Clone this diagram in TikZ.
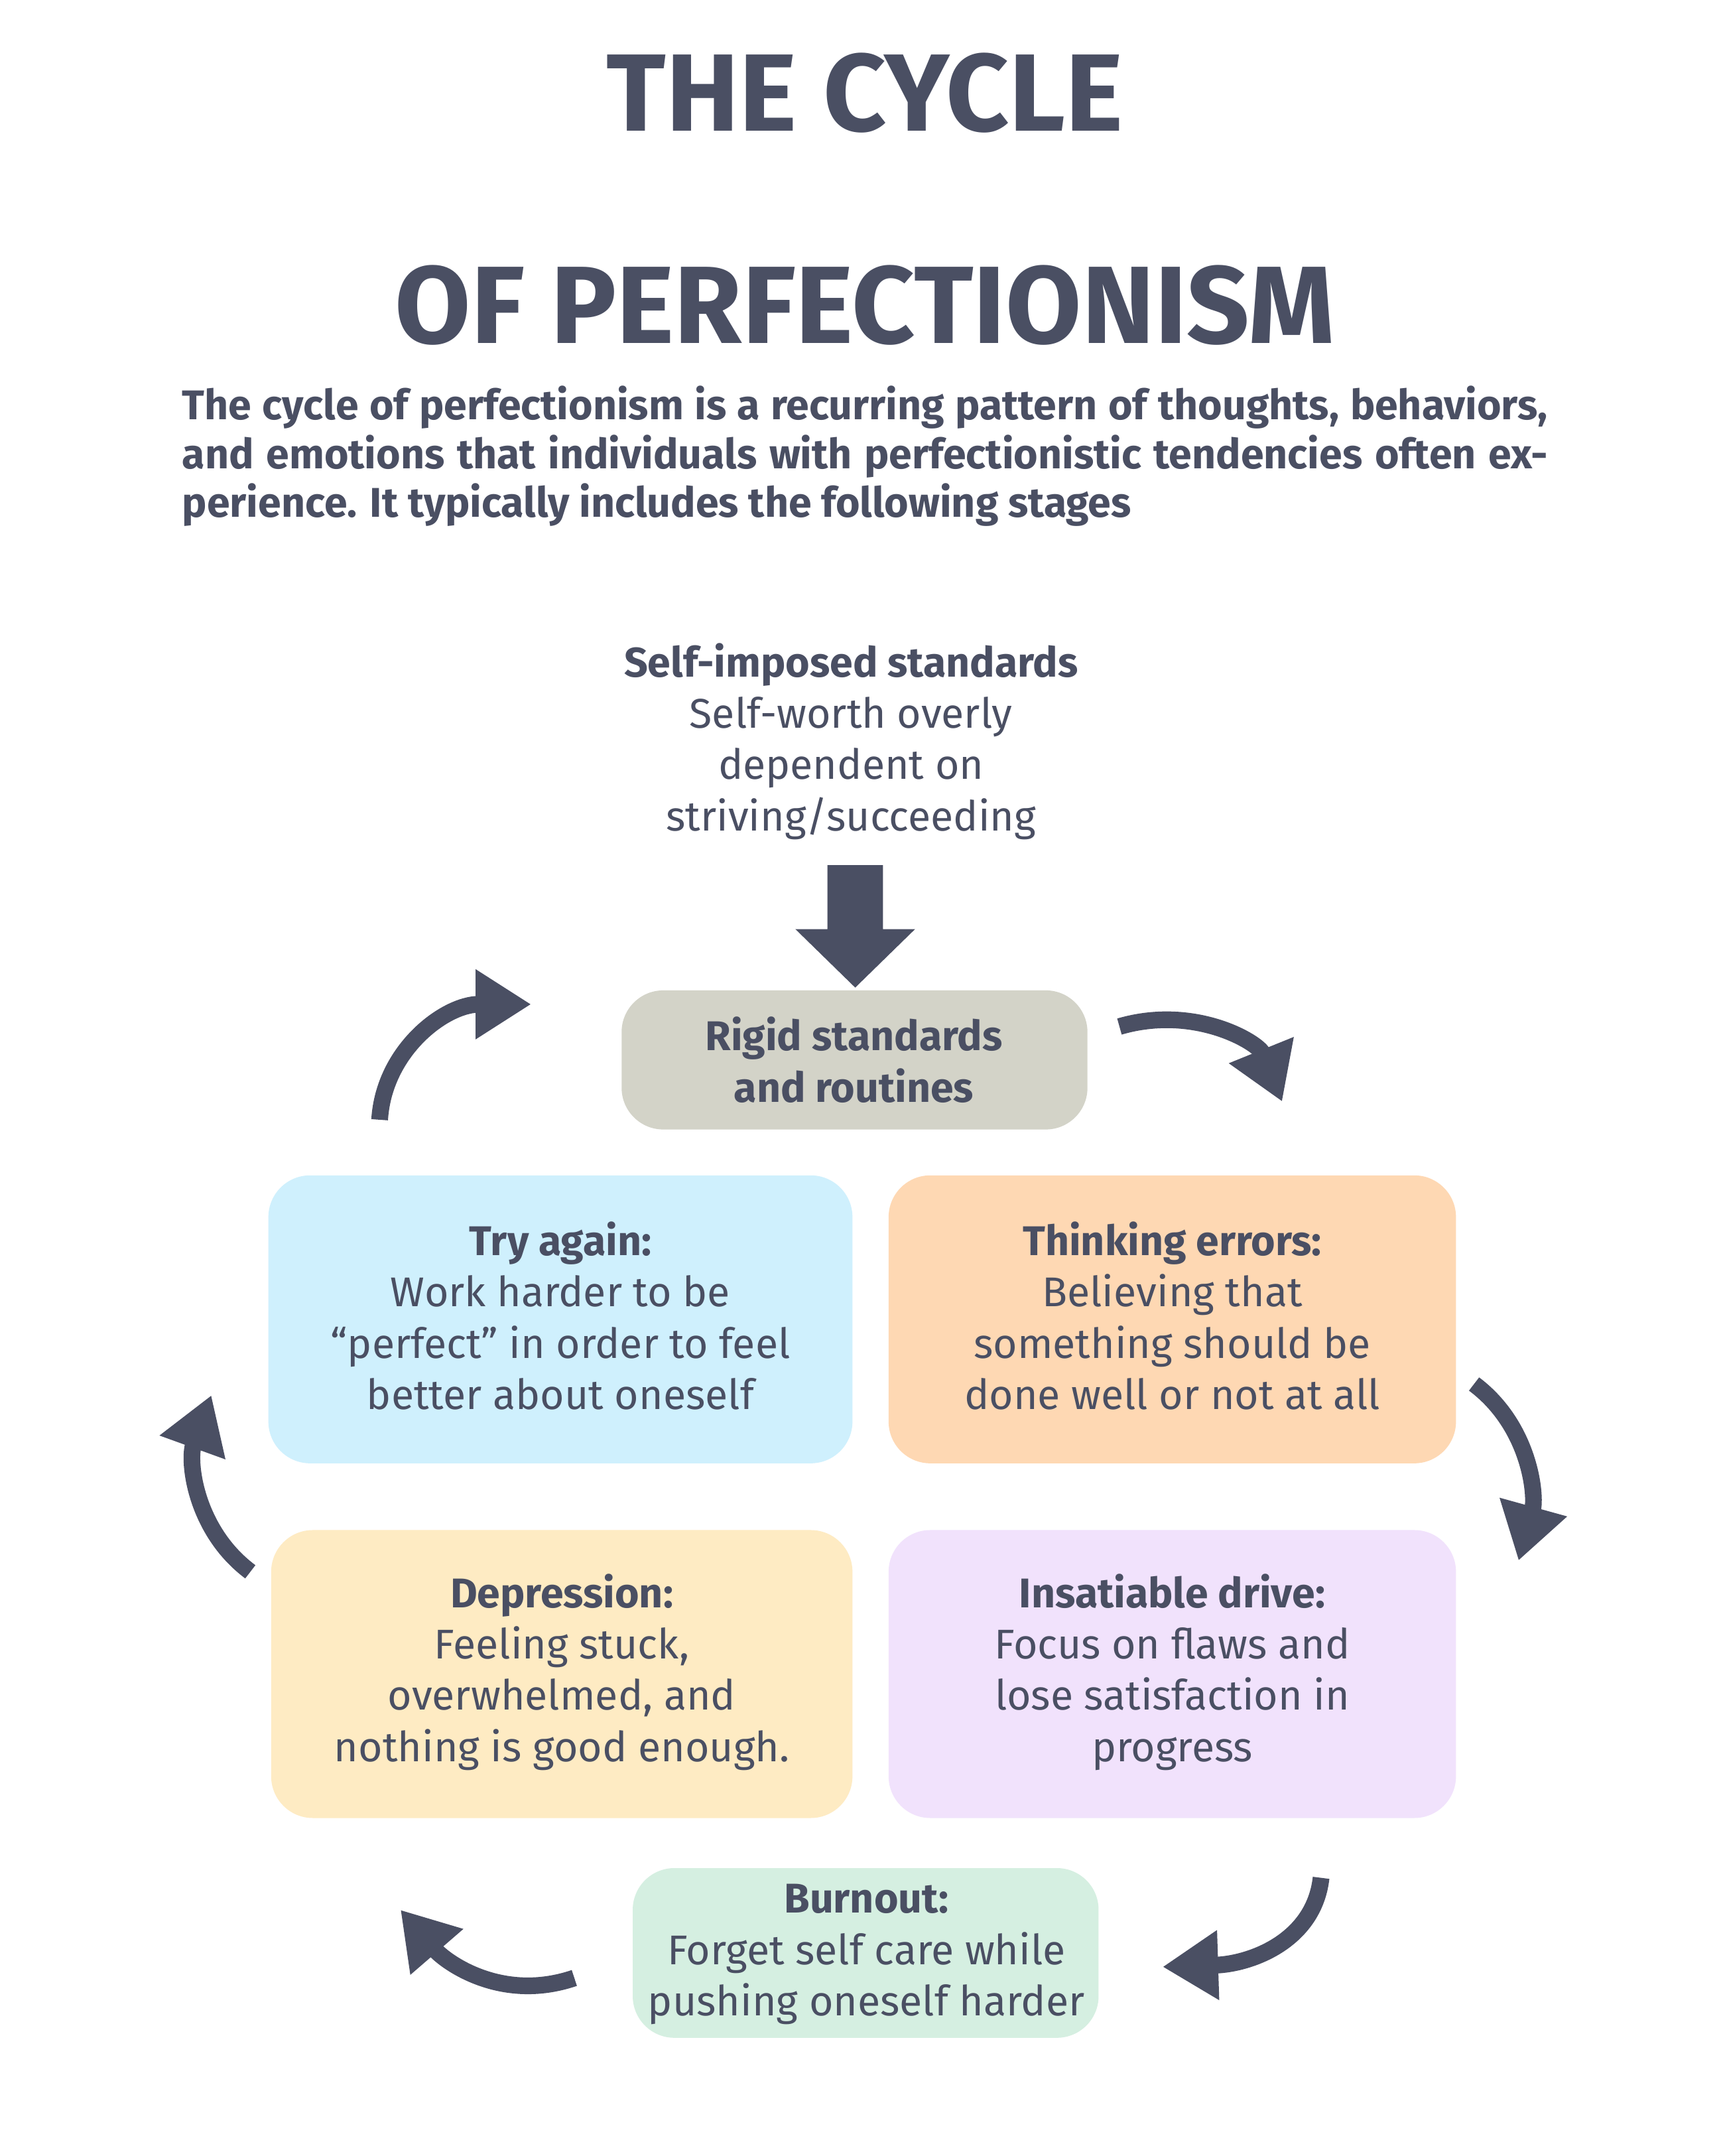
\documentclass[tikz,border=0pt]{standalone}
\usepackage{fontspec}
\setmainfont{Fira Sans}
\usetikzlibrary{arrows.meta}
\definecolor{ink}{HTML}{4A4F63}
\definecolor{rigidc}{HTML}{D3D3C8}
\definecolor{tryc}{HTML}{CFF0FD}
\definecolor{thinkc}{HTML}{FED8B3}
\definecolor{depc}{HTML}{FEEBC3}
\definecolor{insc}{HTML}{F1E2FC}
\definecolor{burnc}{HTML}{D5EFE1}
\tikzset{
  stage/.style={rounded corners=0.6cm, align=center, text=ink, inner sep=0pt,
    font=\fontsize{17}{21}\selectfont},
  turn/.style={draw=ink, line width=0.24cm,
    -{Triangle[length=0.8cm,width=0.95cm]}},
}
\begin{document}
\begin{tikzpicture}[x=0.02cm,y=-0.02cm]
    \useasboundingbox[fill=white] (0,0) rectangle (1240,1550);
    % heading
    \node[text=ink, align=center, font=\fontsize{45}{87}\selectfont\bfseries] (title) at (622,143)
      {THE CYCLE\\OF PERFECTIONISM};
    \node[text=ink, text width=19.64cm, align=justify, inner sep=0pt,
      font=\fontsize{17}{20}\selectfont\bfseries] (intro) at (622,328)
      {The cycle of perfectionism is a recurring pattern of thoughts, behaviors, and emotions that individuals with perfectionistic tendencies often experience. It typically includes the following stages};
    \node[stage] (self) at (612,533)
      {\textbf{Self-imposed standards}\\Self-worth overly\\dependent on\\striving/succeeding};
    % stages
    \path[stage, fill=rigidc] (447,712) rectangle (782,812);
    \node[stage] (rigid) at (614,762) {\textbf{Rigid standards}\\\textbf{and routines}};
    \path[stage, fill=tryc] (193,845) rectangle (613,1052);
    \node[stage] (try) at (403,946) {\textbf{Try again:}\\Work harder to be\\“perfect” in order to feel\\better about oneself};
    \path[stage, fill=thinkc] (639,845) rectangle (1047,1052);
    \node[stage] (think) at (843,946) {\textbf{Thinking errors:}\\Believing that\\something should be\\done well or not at all};
    \path[stage, fill=depc] (195,1100) rectangle (613,1307);
    \node[stage] (dep) at (404,1202) {\textbf{Depression:}\\Feeling stuck,\\overwhelmed, and\\nothing is good enough.};
    \path[stage, fill=insc] (639,1100) rectangle (1047,1307);
    \node[stage] (ins) at (843,1202) {\textbf{Insatiable drive:}\\Focus on flaws and\\lose satisfaction in\\progress};
    \path[stage, fill=burnc] (455,1343) rectangle (790,1465);
    \node[stage] (burn) at (623,1405) {\textbf{Burnout:}\\Forget self care while\\pushing oneself harder};
    % arrows
    \fill[ink] (595,622) -- (635,622) -- (635,668) -- (658,668) -- (615,710) -- (572,668) -- (595,668) -- cycle;
    \coordinate (a1) at (273,805); \coordinate (b1) at (382,722);
    \coordinate (a2) at (805,738); \coordinate (b2) at (922,792);
    \coordinate (a3) at (1060,995); \coordinate (b3) at (1092,1122);
    \coordinate (a4) at (950,1350); \coordinate (b4) at (836,1414);
    \coordinate (a5) at (413,1422); \coordinate (b5) at (288,1373);
    \coordinate (a6) at (180,1130); \coordinate (b6) at (152,1003);
    \draw[turn] (a1) .. controls (276,755) and (320,722) .. (b1);
    \draw[turn] (a2) .. controls (860,722) and (905,750) .. (b2);
    \draw[turn] (a3) .. controls (1100,1025) and (1105,1075) .. (b3);
    \draw[turn] (a4) .. controls (945,1395) and (900,1412) .. (b4);
    \draw[turn] (a5) .. controls (360,1440) and (320,1410) .. (b5);
    \draw[turn] (a6) .. controls (140,1100) and (135,1050) .. (b6);
\end{tikzpicture}
\end{document}
